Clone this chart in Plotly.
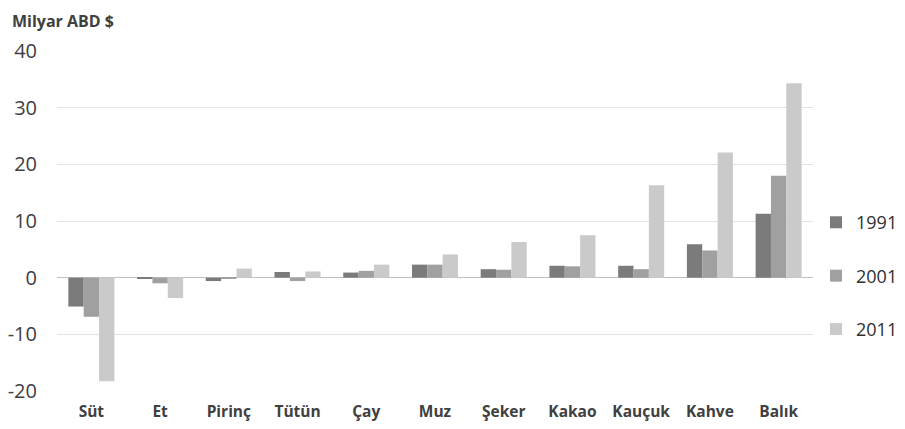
import plotly.graph_objects as go

categories = ["Süt", "Et", "Pirinç", "Tütün", "Çay", "Muz", "Şeker", "Kakao", "Kauçuk", "Kahve", "Balık"]
v1991 = [-5.1, -0.1, -0.6, 1.0, 0.9, 2.3, 1.5, 2.1, 2.1, 5.9, 11.3]
v2001 = [-6.9, -1.0, -0.2, -0.6, 1.2, 2.3, 1.4, 2.0, 1.5, 4.8, 18.0]
v2011 = [-18.3, -3.6, 1.6, 1.1, 2.3, 4.1, 6.3, 7.5, 16.3, 22.1, 34.3]
series = [("1991", v1991, "#7b7b7b"), ("2001", v2001, "#a0a0a0"), ("2011", v2011, "#cacaca")]
y_ticks = [-20, -10, 0, 10, 20, 30, 40]
y_ticktext = ["-20", "-10", "0", "10", "20", "30", "40"]

fig = go.Figure()
for name, vals, col in series:
    fig.add_trace(go.Bar(x=categories, y=vals, name=name, marker=dict(color=col, line=dict(width=0)),
                         legendgroup=name))

fig.update_layout(
    width=897, height=421,
    margin=dict(l=49, r=92, t=43, b=38, autoexpand=False),
    paper_bgcolor="white", plot_bgcolor="white",
    barmode="group", bargap=0.33, bargroupgap=0,
    font=dict(family="Open Sans, Noto Sans, sans-serif", color="#404040"),
    legend=dict(x=1.004, xanchor="left", y=0.338, yanchor="middle",
                font=dict(size=18, color="#303030"), tracegroupgap=27,
                itemwidth=30),
    showlegend=True,
    annotations=[dict(text="<b>Milyar ABD $</b>", xref="paper", yref="paper",
                      x=-0.062, y=1.1255, xanchor="left", yanchor="top",
                      showarrow=False, font=dict(size=16, color="#404040"))],
)
fig.update_xaxes(tickfont=dict(size=15.5, weight="bold", color="#404040"), showgrid=False,
                 showline=False, ticks="", ticklabelstandoff=9)
fig.update_yaxes(range=[-20, 40], tickvals=y_ticks, ticktext=y_ticktext,
                 tickfont=dict(size=20, color="#404040"),
                 gridcolor="#e3e3e3", gridwidth=1, zeroline=True, zerolinecolor="#c0c0c0",
                 zerolinewidth=1, showline=False, ticks="", ticklabelstandoff=19)
fig.write_html("out.html")
